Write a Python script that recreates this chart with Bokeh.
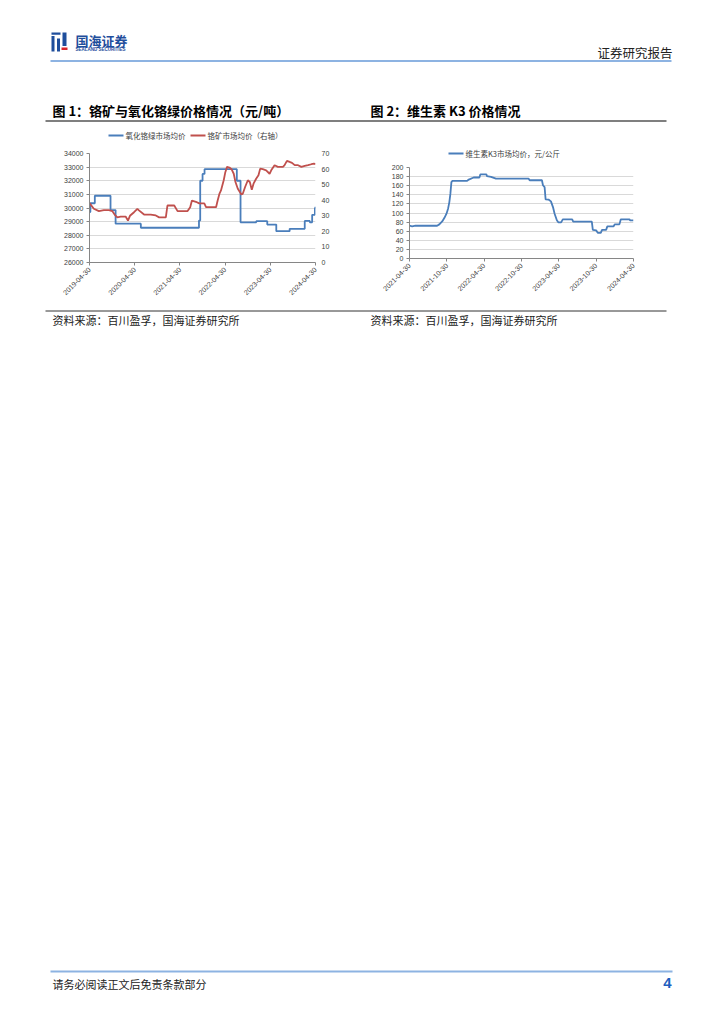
import math
import pandas as pd
from bokeh.plotting import figure
from bokeh.models import (Range1d, LinearAxis, FixedTicker, DatetimeTickFormatter,
                          ColumnDataSource)
from bokeh.layouts import column, row
from bokeh.embed import file_html
from bokeh.resources import INLINE
from bokeh.core.properties import value

CJK = "Noto Sans CJK SC"
NUM = "Liberation Sans"

# ---------------- data ----------------
# 氧化铬绿市场均价 (元/吨), step series
cr_green_dates = ["2019-04-30", "2019-05-07", "2019-06-12", "2019-10-17", "2019-11-27",
                  "2020-06-18", "2021-10-01", "2021-10-11", "2021-10-30", "2021-11-15",
                  "2022-08-03", "2022-09-02", "2023-01-07", "2023-04-06", "2023-06-18",
                  "2023-10-04", "2024-02-03", "2024-03-15", "2024-04-03", "2024-04-25",
                  "2024-04-30"]
cr_green_price = [29700, 30350, 30900, 29850, 28850,
                  28550, 29080, 32000, 32500, 32850,
                  32000, 28950, 29030, 28780, 28300,
                  28470, 29050, 28950, 29500, 30000,
                  30100]

# 铬矿市场均价 (右轴)
cr_ore_dates = ["2019-04-30", "2019-06-04", "2019-07-15", "2019-08-24", "2019-10-04",
                "2019-10-31", "2019-11-19", "2019-12-11", "2020-01-07", "2020-02-16",
                "2020-03-06", "2020-03-22", "2020-04-24", "2020-05-21", "2020-06-03",
                "2020-07-14", "2020-09-06", "2020-10-17", "2020-11-13", "2021-01-06",
                "2021-01-19", "2021-03-15", "2021-04-11", "2021-07-01", "2021-07-22",
                "2021-08-05", "2021-09-06", "2021-10-03", "2021-11-13", "2021-11-27",
                "2022-02-16", "2022-03-01", "2022-03-15", "2022-03-28", "2022-04-19",
                "2022-05-02", "2022-05-16", "2022-06-04", "2022-06-23", "2022-07-09",
                "2022-07-23", "2022-08-11", "2022-08-30", "2022-09-07", "2022-09-20",
                "2022-10-09", "2022-10-31", "2022-11-16", "2022-12-02", "2022-12-16",
                "2023-01-06", "2023-01-25", "2023-02-08", "2023-03-01", "2023-03-28",
                "2023-04-25", "2023-05-08", "2023-06-04", "2023-07-01", "2023-08-11",
                "2023-08-24", "2023-09-12", "2023-10-04", "2023-10-23", "2023-11-14",
                "2023-12-11", "2024-01-07", "2024-02-03", "2024-03-01", "2024-03-28",
                "2024-04-18", "2024-04-30"]
cr_ore_price = [38.1, 34.5, 33.0, 33.6, 33.6,
                33.0, 30.8, 29.0, 29.5, 29.5,
                26.9, 30.0, 32.3, 34.5, 33.5,
                30.8, 30.8, 30.2, 29.0, 29.0,
                36.6, 36.6, 33.0, 33.0, 35.5,
                39.8, 39.0, 38.0, 38.0, 35.5,
                35.5, 39.8, 44.0, 46.3, 52.8,
                58.0, 61.4, 61.0, 59.7, 57.0,
                51.7, 47.4, 45.0, 43.7, 44.1,
                48.5, 52.8, 51.7, 46.7, 50.6,
                53.8, 56.0, 60.3, 59.9, 59.2,
                57.0, 59.2, 62.5, 61.4, 61.4,
                62.5, 65.3, 64.6, 64.0, 62.5,
                62.5, 61.4, 62.0, 62.5, 63.1,
                63.5, 63.1]

# 维生素K3市场均价 (元/公斤)
k3_dates = ["2021-04-30", "2021-05-13", "2021-05-29", "2021-09-12", "2021-09-23",
            "2021-10-07", "2021-10-18", "2021-10-28", "2021-11-05", "2021-11-11",
            "2021-11-16", "2021-11-21", "2021-11-26", "2022-02-06", "2022-02-14",
            "2022-03-10", "2022-04-07", "2022-04-12", "2022-05-11", "2022-05-14",
            "2022-06-03", "2022-06-27", "2022-12-04", "2022-12-09", "2023-02-07",
            "2023-02-12", "2023-02-20", "2023-02-25", "2023-03-11", "2023-03-23",
            "2023-04-02", "2023-04-10", "2023-04-21", "2023-04-28", "2023-05-12",
            "2023-05-20", "2023-07-05", "2023-07-10", "2023-10-09", "2023-10-14",
            "2023-10-30", "2023-11-07", "2023-11-22", "2023-11-28", "2023-12-18",
            "2023-12-24", "2024-01-23", "2024-01-29", "2024-02-21", "2024-02-28",
            "2024-04-10", "2024-04-13", "2024-04-30"]
k3_price = [72, 70.5, 72, 72, 75,
            81.5, 89.5, 98.5, 110, 124,
            142, 168, 170.5, 170.5, 173.5,
            178, 178, 185, 185, 181,
            179.5, 175.5, 175.5, 172, 172,
            161, 157, 130, 129.5, 125.5,
            113, 98.5, 84, 79.5, 79.5,
            86, 86, 81, 81, 63,
            62, 56.5, 56.5, 63, 63,
            70.5, 70.5, 75, 75, 86,
            86, 84, 84]

fig1_x_ticks = ["2019-04-30", "2020-04-30", "2021-04-30", "2022-04-30", "2023-04-30", "2024-04-30"]
fig1_left_ticks = [26000, 27000, 28000, 29000, 30000, 31000, 32000, 33000, 34000]
fig1_right_ticks = [0, 10, 20, 30, 40, 50, 60, 70]
fig2_x_ticks = ["2021-04-30", "2021-10-30", "2022-04-30", "2022-10-30", "2023-04-30",
                "2023-10-30", "2024-04-30"]
fig2_y_ticks = [0, 20, 40, 60, 80, 100, 120, 140, 160, 180, 200]

fig1_series_names = ["氧化铬绿市场均价", "铬矿市场均价（右轴）"]
fig2_series_names = ["维生素K3市场均价，元/公斤"]

BLUE = "#4a7ebb"
RED = "#c0504d"
GRID = "#d9d9d9"
AXIS = "#868686"
TICK_TXT = "#404040"


def ms(d):
    return pd.Timestamp(d).timestamp() * 1000.0


def page_fig(x0, x1, y0, y1, fx0=None, fx1=None):
    # canvas covers page x0..x1 / y0..y1; the frame may be narrower (fx0..fx1)
    fx0 = x0 if fx0 is None else fx0
    fx1 = x1 if fx1 is None else fx1
    p = figure(width=x1 - x0, height=y1 - y0, x_range=Range1d(fx0, fx1), y_range=Range1d(y1, y0),
               output_backend="svg", toolbar_location=None, min_border=0,
               min_border_left=fx0 - x0, min_border_right=x1 - fx1,
               x_axis_location=None, y_axis_location=None)
    p.grid.visible = False
    p.outline_line_color = None
    return p


def txt(p, x, y, s, size, color="#000000", bold=False, font=CJK, align="left"):
    p.text(x=[x], y=[y], text=[s], text_font=value(font), text_font_size=size,
           text_color=color, text_font_style="bold" if bold else "normal",
           text_baseline="middle", text_align=align)


def legend_entry(p, x, y, label, color):
    p.line(x=[x, x + 15], y=[y, y], line_color=color, line_width=2)
    txt(p, x + 17, y, label, "7.5px", "#404040")


def style_axis(ax):
    ax.major_label_text_font = NUM
    ax.major_label_text_font_size = "7px"
    ax.major_label_text_color = TICK_TXT
    ax.axis_line_color = AXIS
    ax.major_tick_line_color = AXIS
    ax.major_tick_out = 3
    ax.major_tick_in = 0
    ax.minor_tick_line_color = None
    ax.major_label_standoff = 3


fmt = "%Y-%m-%d"

# ---------------- header ----------------
head = page_fig(0, 724, 0, 126)
head.quad(left=[51, 51, 56.5, 62, 61], right=[60, 54, 59.5, 66, 67],
          top=[32, 35.5, 38, 32, 47], bottom=[34.2, 51, 51, 45.5, 49.5],
          fill_color=["#1f4e9c", "#1f4e9c", "#1f4e9c", "#1f4e9c", "#d9262c"], line_color=None)
txt(head, 75, 40, "国海证券", "13px", "#1f4e9c", bold=True)
txt(head, 75, 49, "SEALAND SECURITIES", "4.5px", "#1f4e9c", bold=True, font=NUM)
txt(head, 672, 52, "证券研究报告", "12.5px", "#222222", align="right")
head.line(x=[50, 671], y=[60.5, 60.5], line_color="#8db3e2", line_width=2)
txt(head, 52, 110, "图 1：铬矿与氧化铬绿价格情况（元/吨）", "13px", bold=True)
txt(head, 370, 110, "图 2：维生素 K3 价格情况", "13px", bold=True)
head.line(x=[45, 666], y=[120.5, 120.5], line_color="#000000", line_width=1.2)

# ---------------- chart 1 ----------------
l1 = page_fig(0, 365, 126, 145, 89, 315)
legend_entry(l1, 108, 135, fig1_series_names[0], BLUE)
legend_entry(l1, 190, 135, fig1_series_names[1], RED)

s_green = ColumnDataSource(dict(d=pd.to_datetime(cr_green_dates), v=cr_green_price))
s_ore = ColumnDataSource(dict(d=pd.to_datetime(cr_ore_dates), v=cr_ore_price))

p1 = figure(width=365, height=161, x_axis_type="datetime",
            x_range=Range1d(pd.Timestamp(fig1_x_ticks[0]), pd.Timestamp(fig1_x_ticks[-1])),
            y_range=Range1d(fig1_left_ticks[0], fig1_left_ticks[-1]),
            output_backend="svg", toolbar_location=None,
            min_border_left=89, min_border_right=50, min_border_top=8, min_border_bottom=44)
p1.outline_line_color = None
p1.xgrid.visible = False
p1.ygrid.grid_line_color = GRID
p1.extra_y_ranges = {"ore": Range1d(fig1_right_ticks[0], fig1_right_ticks[-1])}
rax = LinearAxis(y_range_name="ore")
p1.add_layout(rax, "right")
p1.yaxis[0].ticker = FixedTicker(ticks=fig1_left_ticks)
rax.ticker = FixedTicker(ticks=fig1_right_ticks)
p1.xaxis.ticker = FixedTicker(ticks=[ms(d) for d in fig1_x_ticks])
p1.xaxis.formatter = DatetimeTickFormatter(days=fmt, months=fmt, years=fmt, hours=fmt)
p1.xaxis.major_label_orientation = math.pi / 4
for ax in [p1.xaxis[0], p1.yaxis[0], rax]:
    style_axis(ax)
rax.axis_line_color = None
rax.major_tick_line_color = None

p1.step(x="d", y="v", source=s_green, mode="after", line_color=BLUE, line_width=1.8)
p1.line(x="d", y="v", source=s_ore, y_range_name="ore", line_color=RED, line_width=1.8)

# ---------------- chart 2 ----------------
l2 = page_fig(365, 724, 126, 160, 409, 633)
legend_entry(l2, 448, 153, fig2_series_names[0], BLUE)

s_k3 = ColumnDataSource(dict(d=pd.to_datetime(k3_dates), v=k3_price))
p2 = figure(width=359, height=146, x_axis_type="datetime",
            x_range=Range1d(pd.Timestamp(fig2_x_ticks[0]), pd.Timestamp(fig2_x_ticks[-1])),
            y_range=Range1d(fig2_y_ticks[0], fig2_y_ticks[-1]),
            output_backend="svg", toolbar_location=None,
            min_border_left=44, min_border_right=91, min_border_top=7, min_border_bottom=48)
p2.outline_line_color = None
p2.xgrid.visible = False
p2.ygrid.grid_line_color = GRID
p2.yaxis.ticker = FixedTicker(ticks=fig2_y_ticks)
p2.xaxis.ticker = FixedTicker(ticks=[ms(d) for d in fig2_x_ticks])
p2.xaxis.formatter = DatetimeTickFormatter(days=fmt, months=fmt, years=fmt, hours=fmt)
p2.xaxis.major_label_orientation = math.pi / 4
for ax in [p2.xaxis[0], p2.yaxis[0]]:
    style_axis(ax)
p2.line(x="d", y="v", source=s_k3, line_color=BLUE, line_width=1.8)

# ---------------- bottom of page ----------------
foot = page_fig(0, 724, 306, 1024)
foot.line(x=[45, 666], y=[310.5, 310.5], line_color="#333333", line_width=1)
txt(foot, 52, 319, "资料来源：百川盈孚，国海证券研究所", "11px", "#222222")
txt(foot, 370, 319, "资料来源：百川盈孚，国海证券研究所", "11px", "#222222")
foot.line(x=[50, 672], y=[971, 971], line_color="#8db3e2", line_width=2)
txt(foot, 52, 983, "请务必阅读正文后免责条款部分", "11px", "#222222")
txt(foot, 671, 982, "4", "15px", "#1f5fbf", bold=True, font=NUM, align="right")

page = column(head, row(column(l1, p1), column(l2, p2)), foot)
open("out.html", "w").write(file_html(page, INLINE))
